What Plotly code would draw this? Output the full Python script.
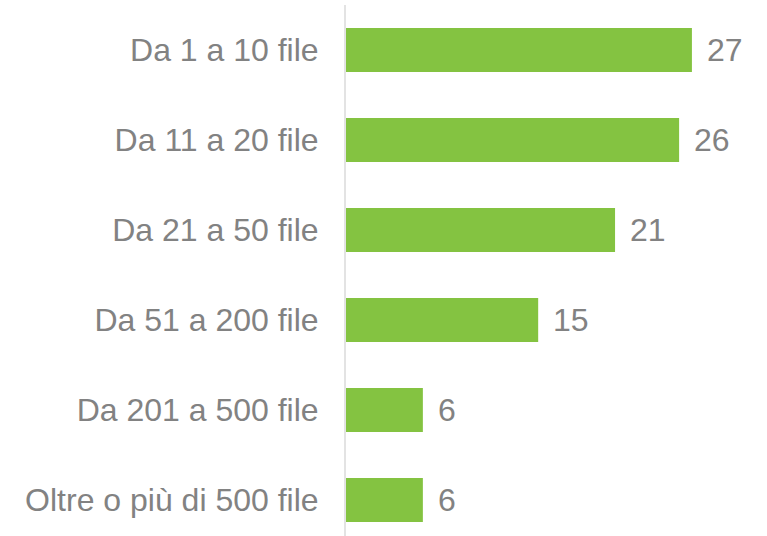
import plotly.graph_objects as go

categories = ["Da 1 a 10 file", "Da 11 a 20 file", "Da 21 a 50 file",
              "Da 51 a 200 file", "Da 201 a 500 file", "Oltre o più di 500 file"]
values = [27, 26, 21, 15, 6, 6]

GREEN = "#84c341"
GRAY = "#828282"
FONT = "Liberation Sans, Arial, sans-serif"

fig = go.Figure(go.Bar(
    x=values, y=categories, orientation="h",
    marker=dict(color=GREEN, line=dict(width=0)),
    width=0.49,
))

for c, v in zip(categories, values):
    fig.add_annotation(x=v, y=c, text=str(v), showarrow=False,
                       xanchor="left", yanchor="middle", xshift=13,
                       font=dict(size=32, color=GRAY, family=FONT))

fig.update_layout(
    width=767, height=536,
    margin=dict(l=346, r=0, t=5, b=0),
    paper_bgcolor="white", plot_bgcolor="white",
    showlegend=False,
    font=dict(family=FONT, size=32, color=GRAY),
    xaxis=dict(range=[0, 32.86], visible=False, fixedrange=True),
    yaxis=dict(categoryorder="array", categoryarray=categories,
               range=[5.4, -0.5], showline=True, linecolor="#e3e3e3",
               linewidth=2, showgrid=False, ticks="",
               ticklabelstandoff=19, fixedrange=True,
               tickfont=dict(size=32, color=GRAY, family=FONT)),
)

fig.write_html("out.html", config={"displayModeBar": False},
               post_script="document.body.style.margin='0';document.body.style.padding='0';")
